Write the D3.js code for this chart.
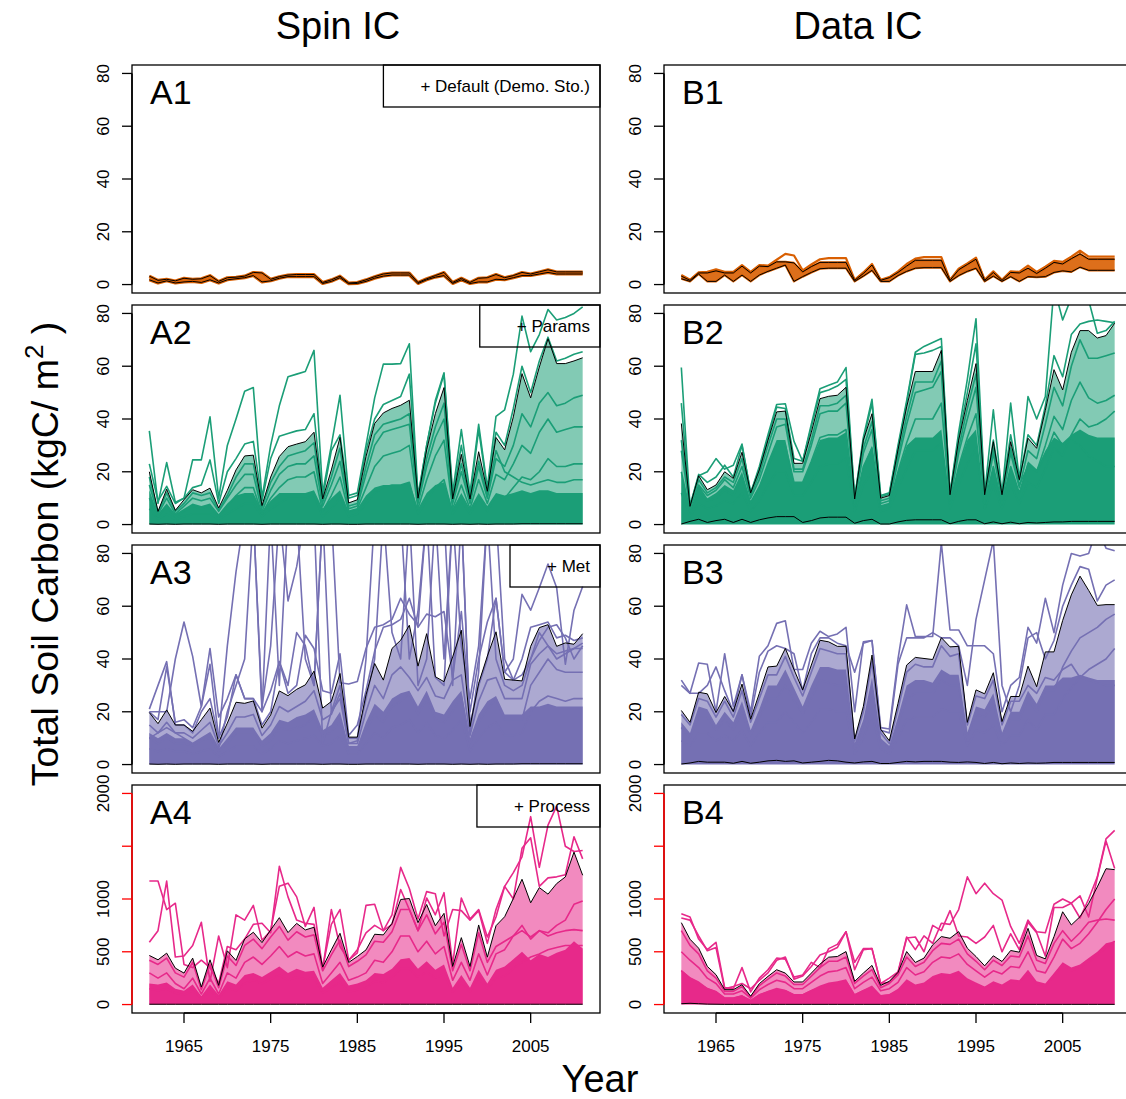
<!DOCTYPE html>
<html>
<head>
<meta charset="utf-8">
<script src="https://cdn.jsdelivr.net/npm/d3@7/dist/d3.min.js"></script>
<style>
  body { margin: 0; background: #fff; }
  svg { display: block; font-family: "Liberation Sans", Arial, Helvetica, sans-serif; }
</style>
</head>
<body>
<div id="chart"></div>
<script>
// ---- data (kgC/m2, one value per year 1961..2011) ----
const years = d3.range(1961, 2012);

// A1 : Spin IC, default
const a1Upper = [3.2, 1.6, 2.0, 1.4, 2.4, 2.0, 2.2, 3.4, 1.2, 2.6,
  2.8, 3.2, 4.6, 4.4, 2.0, 3.0, 3.6, 3.8, 3.8, 3.8,
  0.8, 1.8, 3.2, 0.6, 0.8, 1.8, 3.0, 4.0, 4.4, 4.4,
  4.4, 0.8, 2.2, 3.4, 4.6, 0.8, 2.4, 0.8, 2.4, 2.6,
  3.8, 2.6, 3.4, 4.6, 4.0, 4.8, 5.6, 4.8, 4.8, 4.8,
  4.8];
const a1Lower = [1.8, 0.6, 1.4, 0.6, 1.0, 1.2, 0.8, 1.8, 0.6, 1.8,
  2.2, 2.6, 3.4, 1.0, 1.4, 2.4, 3.0, 3.0, 3.0, 3.0,
  0.4, 1.2, 2.6, 0.3, 0.4, 1.2, 2.4, 3.2, 3.6, 3.6,
  3.6, 0.4, 1.8, 2.8, 3.4, 0.4, 1.8, 0.4, 1.0, 1.0,
  2.0, 1.8, 2.6, 3.4, 3.4, 4.0, 4.6, 4.0, 4.0, 4.0,
  4.0];

// B1 : Data IC, default
const b1Upper = [3.2, 1.6, 4.4, 4.4, 5.2, 4.4, 4.4, 7.0, 4.4, 7.0,
  6.8, 8.6, 8.6, 8.2, 4.8, 6.8, 8.4, 8.4, 8.4, 8.4,
  1.6, 4.2, 7.4, 1.6, 2.6, 4.6, 7.0, 9.2, 9.2, 9.2,
  9.2, 1.6, 5.6, 7.6, 9.6, 1.6, 4.6, 1.6, 4.6, 4.4,
  6.2, 4.2, 6.2, 8.4, 7.8, 9.8, 11.6, 9.6, 9.6, 9.6,
  9.6];
const b1Lower = [2.2, 1.2, 4.0, 1.2, 1.2, 3.6, 1.2, 3.6, 1.2, 3.6,
  5.0, 6.2, 7.4, 1.2, 3.0, 4.6, 6.0, 6.2, 6.2, 6.2,
  1.2, 3.2, 5.4, 1.2, 1.2, 3.4, 5.0, 6.2, 6.4, 6.4,
  6.4, 1.2, 3.4, 5.0, 6.2, 1.2, 3.2, 1.2, 3.0, 1.2,
  3.0, 2.8, 3.0, 4.6, 5.2, 4.8, 6.6, 5.4, 5.4, 5.4,
  5.4];
const b1Max = [3.6, 1.8, 4.6, 4.8, 5.8, 4.8, 4.8, 7.4, 4.8, 7.4,
  7.2, 9.4, 11.6, 11.0, 5.4, 7.6, 9.6, 10.0, 10.0, 10.0,
  1.8, 4.6, 7.8, 1.8, 2.8, 5.0, 7.8, 9.8, 10.4, 10.4,
  10.4, 1.8, 6.0, 8.0, 10.2, 1.8, 5.0, 1.8, 5.0, 4.8,
  7.2, 4.8, 6.8, 9.0, 8.6, 10.6, 12.8, 10.6, 10.6, 10.6,
  10.6];

// A2 : Spin IC, + params
const a2Upper = [20, 5, 13.4, 5.4, 9.4, 13.2, 12, 13.8, 6.3, 13,
  20.7, 26, 26.3, 7.2, 18, 25.8, 29.5, 30.5, 31.4, 35,
  9.7, 20.7, 33, 8.2, 9.4, 25.8, 38.3, 42.3, 44, 45.2,
  47.1, 10, 28.3, 42, 51.9, 9.7, 26.6, 9.7, 27.6, 12.6,
  33, 28.3, 40.8, 57.2, 48, 59.7, 70.4, 61, 61, 62,
  63.2];
const a2Lower = [0.2, 0.1, 0.2, 0.1, 0.2, 0.2, 0.2, 0.2, 0.1, 0.2,
  0.2, 0.2, 0.2, 0.1, 0.2, 0.2, 0.2, 0.2, 0.2, 0.2,
  0.1, 0.2, 0.2, 0.1, 0.1, 0.2, 0.2, 0.2, 0.2, 0.2,
  0.2, 0.1, 0.2, 0.2, 0.2, 0.1, 0.2, 0.1, 0.2, 0.1,
  0.2, 0.2, 0.2, 0.3, 0.3, 0.3, 0.3, 0.3, 0.3, 0.3,
  0.3];
const a2Core = [13, 4, 8, 4, 6, 8, 7, 8, 4, 8,
  11, 12, 12, 5, 9, 12, 12, 12, 12, 13,
  6, 10, 13, 5, 6, 11, 14, 15, 15, 15,
  16, 6, 12, 15, 16, 6, 12, 6, 12, 7,
  12, 11, 12, 13, 12, 13, 13, 12, 12, 12,
  12];
const a2Out1 = [35.5, 8, 23.5, 8.5, 10, 24.5, 24.5, 40.8, 10, 30,
  40, 50.5, 51.9, 10, 30, 45, 56, 57, 58, 66,
  12, 30, 49, 11, 12, 30, 48, 60.8, 60.8, 61,
  68.5, 11, 30, 47, 57.5, 12, 36, 12, 38, 14,
  41, 43.5, 57, 79, 65.5, 72, 81.5, 77.5, 78.5, 80,
  82.5];
const a2Out2 = [23, 9, 14.5, 8, 10, 14, 15, 24.5, 8, 20,
  25, 30.5, 31.5, 9, 25, 33.5, 34.5, 35.5, 36, 42,
  10, 28, 34, 10, 11, 28, 40, 45.5, 47, 48.5,
  57, 10, 30, 46, 57, 10, 30, 10, 36, 13,
  35, 30, 44, 60, 50, 62, 71, 62, 63, 64.5,
  65.5];
const a2Mid1 = [15, 4, 10, 4, 7, 10, 9, 10, 5, 10,
  15, 19, 19, 5, 13, 19, 22, 23, 23, 26,
  7, 15, 24, 6, 7, 19, 30, 35, 36, 37,
  38, 8, 22, 33, 40, 8, 20, 8, 22, 10,
  25, 22, 30, 42, 37, 46, 50, 45, 46, 48,
  49];
const a2Mid2 = [10, 3, 7, 3, 5, 7, 6, 7, 3, 7,
  11, 14, 14, 4, 10, 14, 17, 18, 18, 20,
  5, 11, 18, 5, 6, 14, 22, 26, 27, 28,
  30, 6, 17, 26, 32, 6, 15, 6, 17, 8,
  19, 17, 23, 30, 27, 35, 40, 35, 36, 37,
  37];
const a2Mid3 = [6, 2, 4, 2, 3, 4, 4, 4, 2, 4,
  6, 8, 8, 3, 6, 8, 10, 10, 10, 11,
  3, 6, 10, 3, 4, 8, 12, 14, 15, 15,
  16, 4, 9, 14, 17, 4, 9, 4, 10, 5,
  11, 10, 14, 18, 17, 20, 25, 22, 22, 23,
  23];
const a2Mid4 = [18, 4.5, 12, 5, 8, 12, 11, 12, 5.5, 11,
  18, 23, 23, 6.5, 16, 22, 26, 27, 28, 31,
  8.5, 18, 29, 7, 8, 22, 34, 38, 39, 40,
  42, 9, 25, 37, 46, 9, 23, 9, 24, 11,
  28, 20, 18, 16, 15, 16, 17, 16, 16, 17,
  17];

// B2 : Data IC, + params
const b2Upper = [38.3, 6.9, 18.5, 13.2, 15, 20, 17.5, 27.4, 12, 20.7,
  32, 42.7, 43, 23.2, 23.2, 35, 47.7, 48.6, 49, 52,
  9.7, 32, 42, 10, 11, 28.3, 44.6, 58, 58, 58,
  66, 11.3, 32, 47, 61, 11.3, 31.4, 11.3, 31.4, 17,
  32.7, 28.9, 43.3, 58.7, 51, 65.3, 73.5, 73.5, 70.7, 71.6,
  76.3];
const b2Lower = [0.2, 1.2, 2, 0.8, 1.5, 2, 0.8, 2, 0.8, 1.8,
  2.5, 3, 3, 3, 0.8, 1.5, 2.5, 2.8, 2.8, 2.8,
  0.5, 1.5, 2, 0.2, 0.2, 1, 1.6, 1.8, 1.8, 1.8,
  1.8, 0.3, 1.2, 1.8, 1.8, 0.3, 1, 0.3, 0.9, 0.3,
  0.8, 0.6, 0.8, 1, 1, 1.2, 1.2, 1.2, 1.2, 1.2,
  1.2];
const b2Core = [20, 5, 15, 10, 12, 15, 13, 20, 9, 15,
  24, 32, 32, 16, 16, 24, 32, 33, 33, 35,
  7, 22, 30, 7, 8, 20, 30, 33, 33, 33,
  36, 8, 22, 32, 36, 8, 22, 8, 22, 12,
  24, 21, 28, 33, 31, 34, 36, 34, 33, 33,
  33];
const b2Out1 = [59.5, 7, 18.5, 20, 25, 21, 22.5, 30.5, 12, 22,
  34, 45.5, 45.8, 31.5, 24, 38, 51.5, 52.8, 54, 59.5,
  10, 33, 47.5, 11, 12, 30, 47, 65.3, 67.5, 69,
  70.5, 11.5, 35, 55, 78, 11.5, 43.5, 11.5, 46, 17,
  48.5, 40, 48.5, 90, 77.5, 86, 88, 85, 72.5, 73.5,
  77];
const b2Out2 = [46, 7, 19, 16, 18, 22.5, 18, 30, 12, 21,
  33, 44.5, 44, 25, 24, 37, 50, 51, 52.5, 55,
  10, 32, 46, 10.5, 11.5, 29, 46, 64.5, 65, 66,
  67.5, 11.5, 33, 50, 68.5, 11.5, 32, 11.5, 34, 17,
  34, 30, 45, 64, 56, 72, 76, 77, 77.5, 77,
  76.5];
const b2Mid1 = [28, 6, 15, 11, 13, 17, 14, 22, 10, 17,
  27, 37, 38, 20, 20, 30, 42, 43, 43, 46,
  8, 27, 36, 8, 9, 24, 38, 50, 51, 52,
  58, 9, 27, 40, 52, 9, 27, 9, 27, 14,
  28, 25, 38, 52, 45, 60, 70, 63, 63, 64,
  65];
const b2Mid2 = [20, 5, 12, 9, 10, 13, 11, 18, 8, 14,
  22, 30, 30, 16, 16, 24, 33, 34, 34, 36,
  7, 22, 29, 7, 8, 20, 31, 40, 40, 40,
  46, 8, 22, 33, 42, 8, 22, 8, 22, 12,
  23, 20, 30, 41, 36, 47, 54, 48, 46, 47,
  49];
const b2Mid3 = [12, 3, 8, 6, 7, 9, 8, 12, 5, 9,
  15, 20, 20, 11, 11, 16, 22, 23, 23, 25,
  5, 15, 20, 5, 6, 14, 21, 28, 28, 28,
  31, 6, 15, 23, 29, 6, 15, 6, 15, 8,
  16, 14, 21, 29, 26, 34, 40, 37, 38, 40,
  43];
const b2Mid4 = [32, 6.5, 17, 12, 14, 18, 16, 25, 11, 19,
  30, 40, 40, 21, 21, 32, 45, 45, 46, 49,
  9, 29, 39, 9, 10, 26, 41, 54, 54, 54,
  62, 10, 29, 44, 57, 10, 29, 10, 29, 15,
  22, 20, 26, 35, 30, 32, 30, 26, 24, 22,
  22];

// A3 : Spin IC, + met
const a3Upper = [19.7, 15.5, 20.7, 15, 15, 12.6, 17, 21.4, 8.4, 15.7,
  23.6, 23.2, 24.1, 13.8, 18.8, 27.9, 26.1, 28.5, 30.2, 35.4,
  21.4, 23.9, 34.5, 10.4, 10.4, 26.4, 38.3, 32, 44, 47.1,
  52.8, 37.3, 49.6, 33.3, 31.4, 40.8, 50.9, 14.4, 30.8, 41.1,
  50.3, 32.3, 32, 31.7, 44.8, 51.9, 53, 44.8, 46.1, 45.6,
  49.6];
const a3Lower = a2Lower;
const a3Core = [12, 10, 12, 10, 10, 8, 10, 12, 6, 10,
  14, 14, 14, 9, 12, 17, 16, 18, 19, 21,
  13, 15, 20, 7, 7, 16, 23, 20, 25, 27,
  28, 22, 28, 20, 19, 24, 28, 10, 19, 24,
  26, 19, 19, 19, 22, 22, 23, 22, 22, 22,
  22];
const a3Wild1 = [21, 30, 39, 15, 15, 12, 20, 25, 10, 45,
  73, 95, 95, 22, 45, 95, 62, 75, 95, 95,
  8, 20, 30, 10, 10, 25, 40, 95, 95, 95,
  40, 58, 95, 33, 30, 95, 95, 15, 30, 40,
  63, 35, 40, 64.5, 58.5, 67, 76, 67, 38, 58.5,
  67.5];
const a3Wild2 = [20, 20, 20, 40, 54, 41, 22, 44, 18, 25,
  34, 25, 25, 20, 28, 39, 30, 50, 45, 30,
  95, 95, 31, 30.5, 31.5, 44, 52, 53, 55, 63,
  57, 53, 95, 95, 40, 95, 45, 25, 45, 95,
  95, 40, 32, 34, 40, 47, 52, 53, 48, 40,
  45];
const a3Wild3 = [10, 12, 14, 12, 10, 8, 10, 12, 6, 20,
  30, 40, 95, 20, 95, 30, 95, 95, 40, 30,
  95, 20, 25, 8, 9, 40, 95, 95, 50, 40,
  95, 30, 40, 95, 95, 30, 95, 12, 35, 95,
  40, 30, 28, 30, 40, 50, 45, 40, 42, 44,
  46];
const a3Out = [20, 17, 37, 16, 17, 14, 22, 38, 10, 18,
  34, 25, 25, 15, 20, 39, 27, 30, 49, 44,
  28, 27, 42, 11, 15, 28, 43, 52, 53, 55,
  63, 52, 57, 56, 58, 33, 58, 20, 40, 54,
  63, 35, 32, 40, 52, 53, 54, 48, 49, 47,
  48];
const a3Mid1 = [15, 12, 16, 12, 12, 10, 13, 16, 7, 12,
  18, 18, 19, 11, 15, 22, 20, 22, 24, 28,
  17, 19, 27, 8, 8, 20, 30, 25, 34, 37,
  33, 28, 33, 26, 25, 32, 34, 11, 24, 32,
  33, 25, 25, 25, 38, 42, 45, 42, 43, 44,
  44];
const a3Mid2 = [10, 8, 10, 8, 8, 7, 9, 10, 5, 8,
  12, 12, 12, 7, 9, 14, 13, 14, 15, 18,
  11, 12, 17, 6, 6, 13, 19, 16, 22, 24,
  27, 19, 25, 17, 16, 20, 26, 8, 16, 21,
  25, 17, 17, 17, 30, 35, 40, 36, 35, 35,
  35];
const a3Mid3 = [6, 5, 6, 5, 5, 4, 5, 6, 3, 5,
  7, 7, 7, 4, 6, 9, 8, 9, 10, 11,
  7, 8, 11, 4, 4, 8, 12, 10, 14, 15,
  17, 12, 16, 11, 10, 13, 17, 5, 10, 14,
  16, 11, 11, 12, 20, 24, 26, 25, 24, 25,
  25];

// B3 : Data IC, + met
const b3Upper = [20.5, 16, 27.4, 26.8, 19.7, 25.8, 20.1, 30.5, 17.2, 27,
  37, 37.3, 44, 36, 28.3, 37.7, 47.1, 46.5, 44.8, 44.8,
  9.7, 22, 41.5, 13.4, 9, 23.2, 37.7, 40.6, 40.2, 39.8,
  48.1, 44.6, 44.8, 16, 28.3, 26.8, 34.8, 16.3, 25.8, 25.8,
  37.3, 29.5, 42.7, 42.7, 54.6, 64.3, 71.4, 66, 60.3, 60.6,
  60.6];
const b3Lower = [0.2, 0.6, 1.2, 0.9, 0.9, 0.9, 0.5, 1.2, 0.5, 0.9,
  1.4, 1.6, 1.2, 1.4, 0.6, 0.9, 1.2, 1.6, 1.4, 0.9,
  0.6, 1.0, 1.2, 0.4, 0.4, 0.8, 1.2, 1.0, 1.2, 1.2,
  1.2, 0.9, 0.8, 1.0, 0.8, 0.4, 0.8, 0.3, 0.6, 0.4,
  0.6, 0.5, 0.6, 0.8, 0.8, 0.8, 0.8, 0.8, 0.8, 0.8,
  0.8];
const b3Core = [16, 12, 22, 21, 15, 20, 16, 24, 13, 21,
  30, 30, 36, 29, 22, 30, 37, 37, 36, 36,
  8, 17, 33, 10, 7, 18, 30, 32, 32, 31,
  36, 34, 34, 12, 22, 21, 27, 12, 20, 20,
  28, 23, 30, 30, 33, 33, 34, 33, 32, 32,
  32];
const b3Out1 = [32, 27, 38.5, 38, 20, 42, 22, 34, 20, 41,
  45, 53.5, 54.5, 36, 36, 46, 50.5, 48.5, 49.5, 52,
  20, 46.5, 47, 14, 13.5, 40, 60.5, 48.5, 48.5, 48.5,
  84, 51, 51, 45, 45, 45, 42, 20, 30, 33,
  52, 46, 63, 50, 68, 80, 79, 80, 90, 82,
  81];
const b3Out2 = [30, 27, 27, 30, 37, 28, 20, 34, 18, 35,
  43, 45, 44, 42, 28, 42, 48, 48, 46, 45,
  35, 46, 47, 13, 12, 38, 48, 48, 48, 50,
  48, 48, 45, 30, 55, 70, 85, 30, 20, 30,
  48, 50, 40, 47, 60, 68, 75, 74, 62, 68,
  70];
const b3Mid1 = [14, 10, 18, 18, 13, 17, 13, 20, 11, 18,
  25, 25, 30, 24, 19, 25, 32, 31, 30, 30,
  6, 15, 28, 9, 6, 15, 25, 27, 27, 27,
  32, 30, 30, 11, 19, 18, 23, 11, 17, 17,
  25, 20, 28, 28, 37, 43, 48, 50, 52, 55,
  57];
const b3Mid2 = [9, 7, 12, 12, 9, 11, 9, 13, 7, 12,
  16, 16, 20, 16, 12, 16, 21, 21, 20, 20,
  4, 10, 19, 6, 4, 10, 17, 18, 18, 18,
  21, 20, 20, 7, 13, 12, 15, 7, 11, 11,
  17, 13, 19, 19, 25, 29, 33, 36, 38, 40,
  44];
const b3Mid3 = [19, 15, 25, 24, 18, 24, 18, 28, 16, 25,
  34, 34, 41, 33, 26, 35, 44, 43, 42, 42,
  9, 20, 39, 12, 8, 21, 35, 38, 37, 37,
  45, 41, 42, 15, 26, 25, 32, 15, 24, 24,
  30, 27, 33, 32, 36, 38, 33, 32, 31, 30,
  30];

// A4 : Spin IC, + process
const a4Upper = [465, 424, 487, 345, 298, 440, 166, 424, 182, 509,
  418, 622, 685, 587, 707, 823, 682, 769, 707, 732,
  355, 518, 675, 399, 455, 518, 666, 660, 769, 995,
  1005, 776, 948, 747, 864, 361, 634, 361, 754, 449,
  747, 832, 1005, 1187, 964, 1108, 1046, 1146, 1209, 1444,
  1225];
const a4Lower = [3, 3, 3, 3, 3, 3, 3, 3, 3, 3,
  3, 3, 3, 3, 3, 3, 3, 3, 3, 3,
  3, 3, 3, 3, 3, 3, 3, 3, 3, 3,
  3, 3, 3, 3, 3, 3, 3, 3, 3, 3,
  3, 3, 3, 3, 3, 3, 3, 3, 3, 3,
  3];
const a4Core = [200, 190, 210, 150, 130, 190, 80, 190, 90, 220,
  190, 280, 300, 260, 310, 360, 300, 340, 310, 320,
  160, 230, 300, 180, 200, 230, 300, 290, 340, 430,
  440, 340, 410, 330, 380, 160, 280, 160, 330, 200,
  330, 360, 430, 500, 420, 480, 450, 490, 520, 600,
  530];
const a4Out1 = [1170, 1170, 900, 960, 380, 350, 420, 350, 200, 550,
  520, 620, 760, 770, 680, 1310, 1020, 800, 770, 760,
  350, 760, 900, 420, 490, 940, 950, 700, 850, 1300,
  1100, 810, 1070, 1050, 650, 900, 890, 800, 890, 580,
  900, 1120, 1250, 1400, 1780, 1300, 1700, 1880, 1500, 1450,
  1460];
const a4Out2 = [590, 700, 1170, 450, 460, 560, 780, 220, 650, 350,
  850, 800, 940, 610, 700, 1120, 1150, 1020, 740, 920,
  330, 900, 550, 420, 520, 680, 750, 700, 760, 1090,
  900, 700, 1010, 850, 1060, 380, 1010, 810, 900, 640,
  830, 1120, 1000, 1480, 1580, 1120, 1200, 1210, 1230, 1590,
  1380];
const a4Mid1 = [300, 250, 300, 200, 150, 250, 100, 250, 100, 300,
  250, 400, 450, 380, 460, 550, 450, 500, 460, 480,
  200, 300, 400, 230, 260, 300, 420, 400, 500, 650,
  650, 500, 600, 480, 550, 230, 400, 230, 480, 280,
  480, 520, 650, 750, 620, 700, 680, 750, 800, 950,
  980];
const a4Mid2 = [150, 130, 150, 110, 90, 130, 60, 130, 60, 160,
  130, 200, 230, 200, 240, 280, 230, 260, 240, 250,
  110, 160, 210, 120, 140, 160, 220, 210, 260, 340,
  340, 260, 310, 250, 290, 120, 210, 120, 250, 150,
  250, 270, 340, 400, 450, 480, 520, 540, 560, 560,
  560];
const a4Mid3 = [420, 380, 440, 300, 260, 400, 140, 380, 160, 460,
  370, 560, 620, 530, 640, 740, 610, 690, 640, 660,
  320, 470, 610, 360, 410, 470, 600, 590, 690, 900,
  900, 700, 850, 670, 780, 320, 570, 320, 680, 400,
  550, 600, 650, 700, 640, 700, 650, 680, 700, 710,
  700];

// B4 : Data IC, + process
const b4Upper = [776, 619, 534, 361, 283, 141, 141, 188, 79, 198,
  267, 330, 298, 214, 214, 298, 383, 449, 455, 502,
  220, 298, 371, 182, 220, 305, 502, 399, 440, 565,
  644, 628, 691, 534, 455, 367, 462, 408, 512, 496,
  722, 465, 433, 644, 879, 754, 832, 958, 1115, 1287,
  1278];
const b4Lower = [8, 12, 8, 4, 3, 2, 2, 2, 2, 2,
  2, 2, 2, 2, 2, 2, 2, 2, 2, 2,
  2, 2, 2, 2, 2, 2, 2, 2, 2, 2,
  2, 2, 2, 2, 2, 2, 2, 2, 2, 2,
  2, 2, 2, 2, 2, 2, 2, 2, 2, 2,
  2];
const b4Core = [330, 260, 220, 160, 130, 70, 70, 90, 40, 100,
  130, 160, 140, 100, 100, 140, 180, 210, 220, 240,
  100, 140, 180, 90, 100, 150, 240, 190, 210, 270,
  300, 290, 320, 250, 210, 170, 220, 190, 240, 230,
  330, 220, 200, 300, 400, 350, 380, 440, 500, 580,
  600];
const b4Out1 = [860, 830, 620, 520, 590, 160, 150, 350, 120, 250,
  330, 440, 430, 260, 280, 400, 350, 530, 570, 690,
  400, 530, 530, 200, 250, 310, 640, 520, 650, 580,
  770, 760, 900, 1210, 1050, 1150, 1050, 990, 740, 580,
  800, 690, 680, 950, 1000, 960, 820, 1000, 1210, 1570,
  1650];
const b4Out2 = [820, 800, 650, 510, 540, 150, 170, 200, 150, 230,
  300, 420, 450, 240, 270, 360, 470, 500, 540, 690,
  330, 520, 530, 200, 210, 300, 630, 640, 500, 750,
  700, 890, 650, 640, 580, 640, 750, 500, 670, 520,
  780, 680, 460, 920, 920, 960, 1030, 830, 1200, 1550,
  1290];
const b4Mid1 = [500, 420, 350, 250, 200, 100, 100, 130, 60, 140,
  190, 230, 210, 150, 150, 210, 270, 310, 320, 350,
  150, 210, 260, 130, 150, 210, 350, 280, 310, 400,
  450, 440, 480, 380, 320, 260, 320, 290, 360, 350,
  500, 320, 300, 450, 620, 530, 580, 670, 780, 900,
  1000];
const b4Mid2 = [320, 250, 200, 150, 120, 60, 60, 80, 40, 90,
  120, 140, 130, 90, 90, 130, 160, 190, 200, 220,
  90, 130, 160, 80, 90, 130, 210, 170, 190, 240,
  270, 260, 290, 230, 190, 160, 190, 170, 220, 210,
  300, 190, 180, 270, 380, 320, 350, 400, 470, 540,
  600];
const b4Mid3 = [700, 560, 480, 320, 250, 125, 125, 170, 70, 180,
  240, 300, 270, 190, 190, 270, 350, 410, 410, 450,
  200, 270, 330, 160, 200, 280, 450, 360, 400, 510,
  580, 570, 620, 480, 410, 330, 420, 370, 460, 450,
  650, 420, 390, 580, 700, 600, 680, 780, 800, 810,
  800];

const columnTitles = ["Spin IC", "Data IC"];
const legendLabels = ["+ Default (Demo. Sto.)", "+ Params", "+ Met", "+ Process"];
const carbonTicks = [0, 20, 40, 60, 80];
const processTicks = [0, 500, 1000, 1500, 2000];
const processTickLabels = ["0", "500", "1000", "", "2000"];
const yearTicks = [1965, 1975, 1985, 1995, 2005];

// ---- styling ----
const ORANGE = "#d95f02";
const GREEN = "#1b9e77";
const PURPLE = "#7570b3";
const PINK = "#e7298a";

const width = 1126;
const height = 1099;
const colLeft = [132, 664];
const boxW = 468;
const rowTop = [65, 305, 545, 785];
const boxH = 228;
const FONT_TICK = 17;

const panels = [
  { id: "A1", col: 0, row: 0, color: ORANGE, bandOpacity: 0.9, upper: a1Upper, lower: a1Lower, core: null,
    lines: [a1Upper, a1Lower], lineWidth: 3 },
  { id: "B1", col: 1, row: 0, color: ORANGE, bandOpacity: 0.9, upper: b1Upper, lower: b1Lower, core: null,
    lines: [b1Max, b1Upper, b1Lower], lineWidth: 2.2 },
  { id: "A2", col: 0, row: 1, color: GREEN, bandOpacity: 0.55, upper: a2Upper, lower: a2Lower, core: a2Core,
    lines: [a2Mid3, a2Mid2, a2Mid4, a2Mid1, a2Out2, a2Out1] },
  { id: "B2", col: 1, row: 1, color: GREEN, bandOpacity: 0.55, upper: b2Upper, lower: b2Lower, core: b2Core,
    lines: [b2Mid3, b2Mid2, b2Mid4, b2Mid1, b2Out2, b2Out1] },
  { id: "A3", col: 0, row: 2, color: PURPLE, bandOpacity: 0.6, upper: a3Upper, lower: a3Lower, core: a3Core,
    lines: [a3Mid3, a3Mid2, a3Mid1, a3Out, a3Wild1, a3Wild2, a3Wild3] },
  { id: "B3", col: 1, row: 2, color: PURPLE, bandOpacity: 0.6, upper: b3Upper, lower: b3Lower, core: b3Core,
    lines: [b3Mid2, b3Mid1, b3Mid3, b3Out2, b3Out1] },
  { id: "A4", col: 0, row: 3, color: PINK, bandOpacity: 0.55, upper: a4Upper, lower: a4Lower, core: a4Core,
    lines: [a4Mid2, a4Mid1, a4Mid3, a4Out2, a4Out1] },
  { id: "B4", col: 1, row: 3, color: PINK, bandOpacity: 0.55, upper: b4Upper, lower: b4Lower, core: b4Core,
    lines: [b4Mid2, b4Mid1, b4Mid3, b4Out2, b4Out1] },
];

const svg = d3.select("#chart").append("svg")
  .attr("width", width)
  .attr("height", height);

panels.forEach(drawPanel);

function drawPanel(p) {
  const left = colLeft[p.col];
  const top = rowTop[p.row];
  const isProcess = p.row === 3;

  const x = d3.scaleLinear().domain([1959, 2013]).range([left, left + boxW]);
  const y = isProcess
    ? d3.scaleLinear().domain([-80, 2080]).range([top + boxH, top])
    : d3.scaleLinear().domain([-3.2, 83.2]).range([top + boxH, top]);

  const clipId = "clip-" + p.id;
  svg.append("clipPath").attr("id", clipId)
    .append("rect")
    .attr("x", left).attr("y", top)
    .attr("width", boxW).attr("height", boxH);

  const g = svg.append("g").attr("clip-path", `url(#${clipId})`);

  const band = d3.area()
    .x((d, i) => x(years[i]))
    .y0((d, i) => y(p.lower[i]))
    .y1((d) => y(d));

  g.append("path")
    .datum(p.upper)
    .attr("d", band)
    .attr("fill", p.color)
    .attr("fill-opacity", p.bandOpacity);

  if (p.core) {
    const coreArea = d3.area()
      .x((d, i) => x(years[i]))
      .y0(y(0))
      .y1((d) => y(d));
    g.append("path")
      .datum(p.core)
      .attr("d", coreArea)
      .attr("fill", p.color);
  }

  const line = d3.line()
    .x((d, i) => x(years[i]))
    .y((d) => y(d));

  g.selectAll(".ens")
    .data(p.lines)
    .enter()
    .append("path")
    .attr("class", "ens")
    .attr("d", line)
    .attr("fill", "none")
    .attr("stroke", p.color)
    .attr("stroke-width", p.lineWidth || 1.6)
    .attr("stroke-linejoin", "round");

  [p.upper, p.lower].forEach((s) => {
    g.append("path")
      .datum(s)
      .attr("d", line)
      .attr("fill", "none")
      .attr("stroke", "#000")
      .attr("stroke-width", 1);
  });

  // box
  svg.append("rect")
    .attr("x", left).attr("y", top)
    .attr("width", boxW).attr("height", boxH)
    .attr("fill", "none")
    .attr("stroke", "#000")
    .attr("stroke-width", 1.3);

  // y axis
  const ticks = isProcess ? processTicks : carbonTicks;
  const axisColor = isProcess ? "#ff0000" : "#000";
  const ya = svg.append("g");
  ya.append("line")
    .attr("x1", left).attr("x2", left)
    .attr("y1", y(ticks[0])).attr("y2", y(ticks[ticks.length - 1]))
    .attr("stroke", axisColor).attr("stroke-width", 1.6);
  ya.selectAll(".tk")
    .data(ticks)
    .enter()
    .append("line")
    .attr("x1", left - 10).attr("x2", left)
    .attr("y1", (d) => y(d)).attr("y2", (d) => y(d))
    .attr("stroke", axisColor).attr("stroke-width", 1.3);
  ya.selectAll(".tl")
    .data(ticks)
    .enter()
    .append("text")
    .attr("transform", (d) => `translate(${left - 23},${y(d)}) rotate(-90)`)
    .attr("text-anchor", "middle")
    .attr("font-size", FONT_TICK)
    .text((d, i) => (isProcess ? processTickLabels[i] : d));

  // x axis on bottom row
  if (isProcess) {
    const xa = svg.append("g");
    const bottom = top + boxH;
    xa.append("line")
      .attr("x1", x(yearTicks[0])).attr("x2", x(yearTicks[yearTicks.length - 1]))
      .attr("y1", bottom).attr("y2", bottom)
      .attr("stroke", "#000").attr("stroke-width", 1.3);
    xa.selectAll(".tk")
      .data(yearTicks)
      .enter()
      .append("line")
      .attr("x1", (d) => x(d)).attr("x2", (d) => x(d))
      .attr("y1", bottom).attr("y2", bottom + 10)
      .attr("stroke", "#000").attr("stroke-width", 1.3);
    xa.selectAll(".tl")
      .data(yearTicks)
      .enter()
      .append("text")
      .attr("x", (d) => x(d))
      .attr("y", bottom + 39)
      .attr("text-anchor", "middle")
      .attr("font-size", FONT_TICK)
      .text((d) => d);
  }

  // panel label
  svg.append("text")
    .attr("x", left + 18)
    .attr("y", top + 39)
    .attr("font-size", 34)
    .text(p.id);

  // legend (Spin IC column only)
  if (p.col === 0) {
    const right = left + boxW;
    const lt = svg.append("text")
      .attr("x", right - 10)
      .attr("y", top + 27)
      .attr("text-anchor", "end")
      .attr("font-size", 17)
      .text(legendLabels[p.row]);
    const tw = lt.node().getComputedTextLength();
    svg.append("rect")
      .attr("x", right - tw - 47)
      .attr("y", top)
      .attr("width", tw + 47)
      .attr("height", 42)
      .attr("fill", "none")
      .attr("stroke", "#000")
      .attr("stroke-width", 1.3);
  }
}

// column titles
svg.selectAll(".coltitle")
  .data(columnTitles)
  .enter()
  .append("text")
  .attr("x", (d, i) => [338, 858][i])
  .attr("y", 39)
  .attr("text-anchor", "middle")
  .attr("font-size", 38)
  .text((d) => d);

// x label
svg.append("text")
  .attr("x", 600)
  .attr("y", 1092)
  .attr("text-anchor", "middle")
  .attr("font-size", 38)
  .text("Year");

// y label
const yl = svg.append("text")
  .attr("transform", "translate(58,554) rotate(-90)")
  .attr("text-anchor", "middle")
  .attr("font-size", 37.5);
yl.append("tspan").text("Total Soil Carbon (kgC/ m");
yl.append("tspan").attr("font-size", 26).attr("dy", -15).text("2");
yl.append("tspan").attr("dy", 15).text(" )");
</script>
</body>
</html>
